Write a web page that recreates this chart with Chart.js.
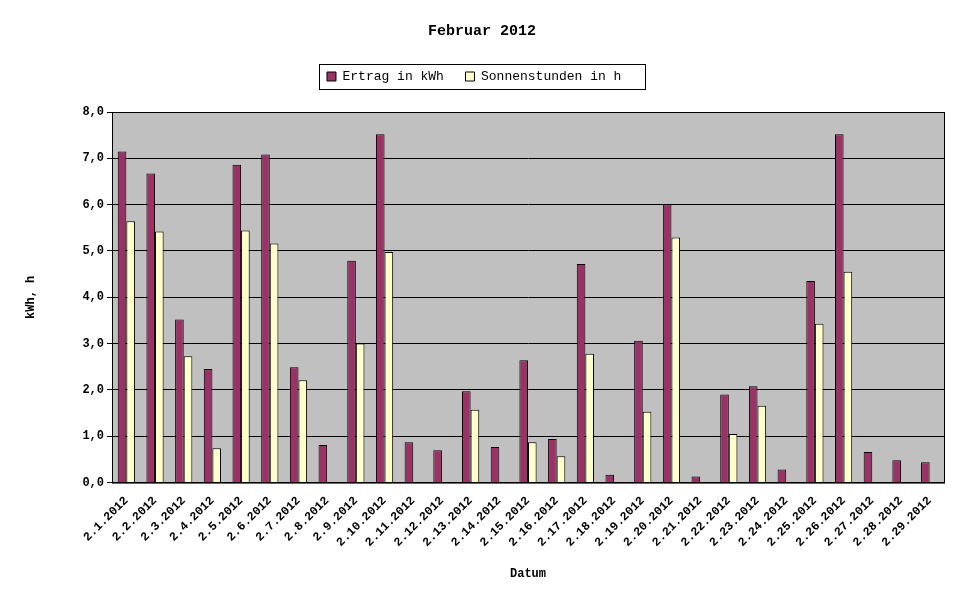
<!DOCTYPE html>
<html><head><meta charset="utf-8">
<script src="https://cdn.jsdelivr.net/npm/chart.js@4"></script>
<style>html,body{margin:0;padding:0;background:#fff}#w{width:971px;height:605px}</style>
</head><body><div id="w"><canvas id="c"></canvas></div>
<script>
const categories = Array.from({length:29},(_, i)=>'2.'+(i+1)+'.2012');
const ertrag = [7.15,6.67,3.52,2.45,6.86,7.08,2.49,0.81,4.79,7.52,0.87,0.70,1.97,0.77,2.64,0.94,4.72,0.17,3.06,6.01,0.13,1.90,2.08,0.28,4.35,7.52,0.66,0.48,0.44];
const sonne = [5.64,5.42,2.73,0.74,5.44,5.16,2.21,0,3.00,4.98,0,0,1.57,0,0.87,0.57,2.78,0,1.53,5.29,0,1.05,1.66,0,3.43,4.55,0,0,0];
const F = "'Liberation Mono', 'DejaVu Sans Mono', monospace";
const bgPlugin = {
  id:'bg',
  beforeLayout(ch){const l=ch.legend;if(l&&!l._p){const f=l.fit.bind(l);l.fit=function(){f();this.height+=19;};l._p=1;}},
  beforeDraw(ch){const a=ch.chartArea,c=ch.ctx;c.save();c.fillStyle='#c0c0c0';c.fillRect(a.left,a.top,a.right-a.left,a.bottom-a.top);c.restore();},
  afterDraw(ch){const a=ch.chartArea,c=ch.ctx,l=ch.legend;c.save();c.strokeStyle='#000';c.lineWidth=1;
    c.strokeRect(a.left+0.5,a.top+0.5,a.right-a.left,a.bottom-a.top);
    const hb=l.legendHitBoxes;if(hb&&hb.length){const x0=hb[0].left-8,x1=hb[hb.length-1].left+hb[hb.length-1].width+8;
      const y0=hb[0].top-6,y1=hb[0].top+hb[0].height+6;
      c.strokeRect(Math.round(x0)+0.5,Math.round(y0)+0.5,Math.round(x1-x0),Math.round(y1-y0));}
    c.restore();}
};
new Chart(document.getElementById('c'),{
  type:'bar',
  data:{labels:categories,datasets:[
    {label:'Ertrag in kWh',data:ertrag,backgroundColor:'#993366',borderColor:'#000',borderWidth:1},
    {label:'Sonnenstunden in h',data:sonne,backgroundColor:'#ffffcc',borderColor:'#000',borderWidth:1}
  ]},
  options:{responsive:true,maintainAspectRatio:false,animation:false,
    layout:{padding:{top:22,right:27,left:20,bottom:20}},
    datasets:{bar:{categoryPercentage:0.6,barPercentage:1,grouped:true}},
    plugins:{
      title:{display:true,text:'Februar 2012',color:'#000',font:{family:F,size:15,weight:'bold'},padding:{top:0,bottom:24}},
      legend:{position:'top',labels:{color:'#000',font:{family:F,size:13},boxWidth:9,boxHeight:9,padding:6,
        generateLabels(ch){return ch.data.datasets.map((d,i)=>({text:d.label+'  ',fillStyle:d.backgroundColor,strokeStyle:'#000',lineWidth:1,datasetIndex:i}));}},
        onClick:null},
      tooltip:{enabled:false}
    },
    scales:{
      x:{grid:{display:false},border:{color:'#000'},
        ticks:{color:'#000',font:{family:F,size:12,weight:'bold'},minRotation:45,maxRotation:45,autoSkip:false},
        title:{display:true,text:'Datum',color:'#000',font:{family:F,size:12,weight:'bold'},padding:{top:14}}},
      y:{min:0,max:8,border:{color:'#000'},
        grid:{color:'#000',drawTicks:true,tickLength:5},
        ticks:{stepSize:1,color:'#000',font:{family:F,size:12,weight:'bold'},callback:v=>v.toFixed(1).replace('.',',')},
        title:{display:true,text:'kWh, h',color:'#000',font:{family:F,size:12,weight:'bold'},padding:{bottom:40}},
        afterFit(s){s.width=92;}}
    }
  },
  plugins:[bgPlugin]
});
</script></body></html>
